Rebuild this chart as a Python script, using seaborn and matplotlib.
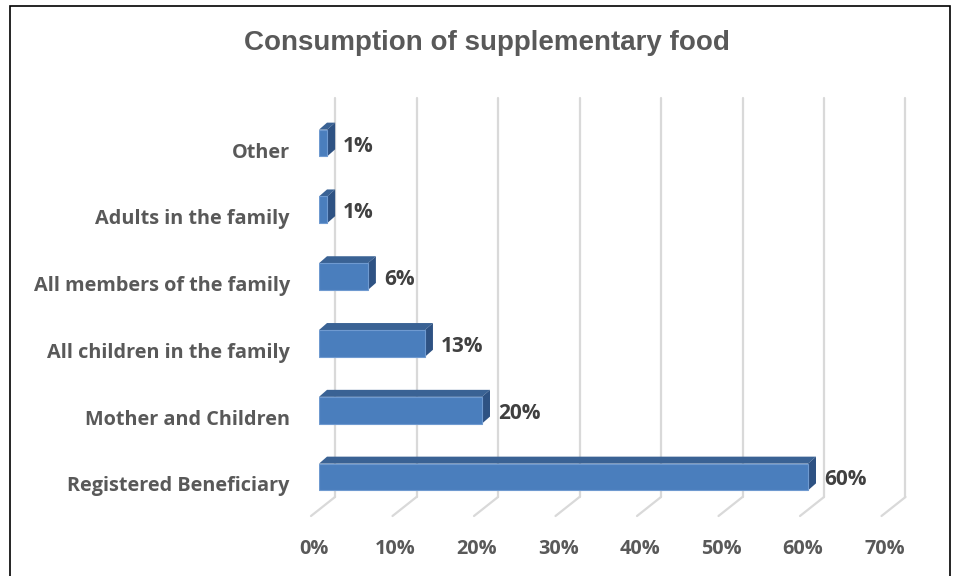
import matplotlib
matplotlib.use("Agg")
import matplotlib.pyplot as plt
from matplotlib.patches import Polygon, Rectangle
from matplotlib.lines import Line2D
from matplotlib.transforms import ScaledTranslation, blended_transform_factory
import seaborn as sns
import pandas as pd

# Data
categories = [
    "Other",
    "Adults in the family",
    "All members of the family",
    "All children in the family",
    "Mother and Children",
    "Registered Beneficiary",
]
shares = [1, 1, 6, 13, 20, 60]
x_ticks = [0, 10, 20, 30, 40, 50, 60, 70]
x_tick_labels = [f"{t}%" for t in x_ticks]
title = "Consumption of supplementary food"

df = pd.DataFrame({"category": categories, "share": shares})

sns.set_theme(style="white")
plt.rcParams["font.family"] = ["Open Sans", "DejaVu Sans"]

W, H, DPI = 957, 576, 100
fig = plt.figure(figsize=(W / DPI, H / DPI), dpi=DPI)
fig.patch.set_facecolor("white")

# Plot area in pixels (front plane of the bars)
left_px, right_px = 319, 889.5
top_px, bottom_px = 109.6, 510.4
ax = fig.add_axes([left_px / W, 1 - bottom_px / H,
                   (right_px - left_px) / W, (bottom_px - top_px) / H])

front = "#4A7EBD"
top_c = "#3A6294"
side_c = "#2E5283"
bar_h = 0.40

sns.barplot(data=df, x="share", y="category", order=categories,
            orient="h", color=front, saturation=1, width=bar_h,
            edgecolor="#6F9AD0", linewidth=0.8, ax=ax, zorder=3)

ax.set_xlim(0, 70)
ax.set_ylim(5.5, -0.5)
for s in ax.spines.values():
    s.set_visible(False)
ax.set_xlabel("")
ax.set_ylabel("")

px_per_x = (right_px - left_px) / 70.0
px_per_y = (bottom_px - top_px) / 6.0
ddx, ddy = 8 / px_per_x, 7 / px_per_y  # depth offset of the bars

label_fs = 14.3
value_fs = 15

# depth faces of the bars and value labels
for i, v in enumerate(shares):
    yt = i - bar_h / 2
    yb = i + bar_h / 2
    ax.add_patch(Polygon([(0, yt), (v, yt), (v + ddx, yt - ddy), (ddx, yt - ddy)],
                         closed=True, facecolor=top_c, edgecolor="none", zorder=2))
    ax.add_patch(Polygon([(v, yt), (v + ddx, yt - ddy), (v + ddx, yb - ddy), (v, yb)],
                         closed=True, facecolor=side_c, edgecolor="none", zorder=2))
    ax.annotate(f"{v}%", xy=(v, i), xytext=(16, -3), textcoords="offset pixels",
                ha="left", va="center", fontsize=value_fs, fontweight="bold",
                color="#404040", annotation_clip=False, zorder=4)

# back wall gridlines and floor lines
grid_c = "#D9D9D9"
tr_back = blended_transform_factory(ax.transData, fig.transFigure) + \
    ScaledTranslation(16 / DPI, 0, fig.dpi_scale_trans)
tr_floor = blended_transform_factory(ax.transData, fig.transFigure)
for t in x_ticks:
    ax.add_line(Line2D([t, t], [1 - 98 / H, 1 - 497 / H], transform=tr_back,
                       color=grid_c, lw=1.6, clip_on=False, zorder=1))
    x_back = t + 16 / px_per_x
    x_front = t - 8 / px_per_x
    ax.add_line(Line2D([x_back, x_front], [1 - 497 / H, 1 - 516 / H],
                       transform=tr_floor, color=grid_c, lw=1.6,
                       clip_on=False, zorder=1))

# ticks and labels
ax.set_xticks(x_ticks)
ax.set_xticklabels(x_tick_labels, fontsize=label_fs, fontweight="bold", color="#595959")
ax.tick_params(axis="x", length=0, pad=20.5)
ax.tick_params(axis="y", length=0, pad=21)
ax.set_yticks(range(len(categories)))
ax.set_yticklabels(categories, fontsize=label_fs, fontweight="bold", color="#595959")
for lab in ax.get_xticklabels():
    lab.set_transform(lab.get_transform() + ScaledTranslation(-5 / DPI, 0, fig.dpi_scale_trans))
for lab in ax.get_yticklabels():
    lab.set_transform(lab.get_transform() + ScaledTranslation(0, -7 / DPI, fig.dpi_scale_trans))

fig.text(487 / W, 1 - 43 / H, title, ha="center", va="center",
         fontsize=20, fontweight="bold", color="#595959",
         family=["Liberation Sans", "DejaVu Sans"])

# chart frame
fig.patches.append(Rectangle((10 / W, -0.1), (950 - 10) / W, 1.1 - 6 / H,
                             transform=fig.transFigure, fill=False,
                             edgecolor="black", lw=1.2))

fig.savefig("out.png", dpi=DPI, facecolor="white")
